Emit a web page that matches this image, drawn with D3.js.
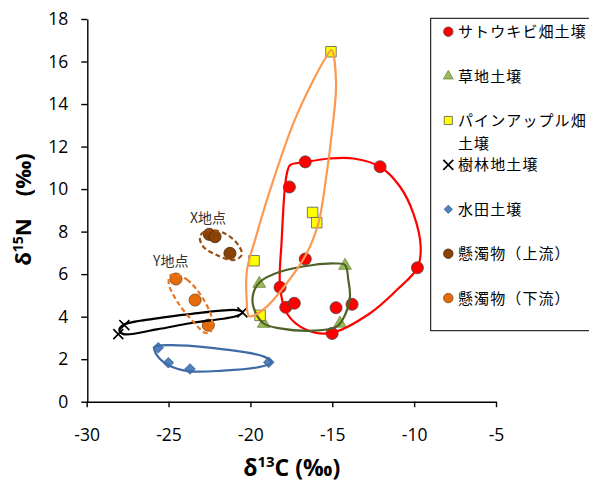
<!DOCTYPE html>
<html>
<head>
<meta charset="utf-8">
<script src="https://cdn.jsdelivr.net/npm/d3@7"></script>
<style>
body { margin: 0; background: #fff; }
svg { display: block; }
.tick text { font-family: "Open Sans", sans-serif; font-size: 17.5px; fill: #000; }
</style>
</head>
<body>
<svg id="chart" width="589" height="484"></svg>
<script>
// δ13C, δ15N of each sample group
var sugarcane = [[-16.65,11.28],[-12.08,11.05],[-17.62,10.1],[-16.65,6.71],[-9.8,6.3],[-18.19,5.38],
                 [-17.84,4.44],[-17.32,4.63],[-14.77,4.42],[-13.79,4.58],[-15.01,3.21]];
var grassland = [[-14.22,6.4],[-19.46,5.55],[-19.19,3.67],[-14.53,3.68]];
var pineapple = [[-15.08,16.46],[-16.2,8.9],[-15.95,8.42],[-19.78,6.63],[-19.41,4.06]];
var forest    = [[-28.07,3.18],[-27.7,3.6],[-20.49,4.2]];
var paddy     = [[-25.63,2.54],[-25.01,1.83],[-23.69,1.54],[-18.88,1.85]];
var upstream   = [[-22.51,7.87],[-22.16,7.76],[-21.25,6.98]];
var downstream = [[-24.55,5.77],[-23.38,4.78],[-22.57,3.6]];

// hand-drawn group outlines (data coordinates)
var sugarcaneOutline = [[-17.58,11.13],[-16.65,11.27],[-15.14,11.44],[-13.71,11.44],[-12.08,11.05],[-10.86,10.11],
  [-10.05,8.86],[-9.6,7.29],[-9.8,6.3],[-11.06,5.25],[-12.69,4.16],[-15.03,3.24],[-16.56,3.37],[-17.78,4.16],
  [-18.19,5.41],[-18.09,7.6],[-17.89,10.11],[-17.75,10.81]];
var pineappleOutline = [[-15.05,16.54],[-14.77,14.97],[-15.03,12.62],[-15.34,10.74],[-15.85,8.39],[-16.56,6.98],
  [-17.78,5.57],[-19.0,4.47],[-19.72,4.08],[-20.09,4.03],[-20.23,4.78],[-20.21,6.19],[-19.72,7.6],[-18.8,9.95],
  [-17.38,13.09],[-16.16,15.12],[-15.38,16.2]];
var grasslandOutline = [[-14.22,6.43],[-14.02,5.72],[-13.92,4.94],[-14.22,4.08],[-14.73,3.53],[-16.16,3.34],
  [-18.19,3.45],[-19.21,3.69],[-19.82,4.47],[-19.82,5.1],[-19.41,5.64],[-18.19,6.11],[-16.16,6.43],[-14.83,6.5]];
var forestOutline = [[-28.01,3.37],[-27.76,3.61],[-25.72,3.92],[-23.69,4.12],[-20.84,4.31],[-20.47,4.2],
  [-20.84,4.03],[-23.69,3.69],[-25.72,3.4],[-27.76,3.18]];
var paddyOutline = [[-25.86,2.57],[-24.42,2.65],[-21.49,2.45],[-19.17,2.12],[-18.7,1.84],[-19.6,1.61],
  [-21.66,1.46],[-23.81,1.44],[-25.03,1.73],[-25.68,2.15]];
var upstreamOutline = [[-23.08,7.76],[-22.71,8.03],[-21.66,7.95],[-20.74,7.37],[-20.53,6.9],[-21.04,6.66],
  [-22.06,6.9],[-22.88,7.29]];
var downstreamOutline = [[-24.71,6.0],[-23.89,5.75],[-22.97,4.94],[-22.36,3.92],[-22.43,3.29],[-22.77,3.24],
  [-23.49,3.76],[-24.4,4.63],[-24.97,5.49],[-24.95,5.88]];

var xTicks = [-30,-25,-20,-15,-10,-5];
var yTicks = [0,2,4,6,8,10,12,14,16,18];
var legendLabels = [["サトウキビ畑土壌"],["草地土壌"],["パインアップル畑","土壌"],["樹林地土壌"],["水田土壌"],["懸濁物（上流）"],["懸濁物（下流）"]];
var siteLabels = [{text:"X地点", x:-22.59, y:8.65},{text:"Y地点", x:-24.87, y:6.62}];

var svg = d3.select("#chart");
var x = d3.scaleLinear().domain([-30,-5]).range([86.7,496]);
var y = d3.scaleLinear().domain([0,18]).range([401.7,19]);

// axes (plain hyphen minus like the original)
var gx = svg.append("g").attr("transform","translate(0,401.7)")
  .call(d3.axisBottom(x).tickValues(xTicks).tickSize(5.5).tickSizeOuter(0).tickFormat(function(d){ return String(d); }));
gx.selectAll("text").attr("y",39.3).attr("dy",null);
var gy = svg.append("g").attr("transform","translate(87.3,0)")
  .call(d3.axisLeft(y).tickValues(yTicks).tickSize(6).tickSizeOuter(0).tickFormat(function(d){ return String(d); }));
gy.selectAll("text").attr("x",-19).attr("dy","5.7px");
svg.selectAll(".domain, .tick line").attr("stroke","#000").attr("stroke-width",1.4);

// axis titles
var xt = svg.append("text").attr("x",291.7).attr("y",476).attr("text-anchor","middle")
  .style("font-family","Open Sans, sans-serif").style("font-weight","bold").style("font-size","23px");
xt.append("tspan").text("δ");
xt.append("tspan").attr("dy",-9).style("font-size","15px").text("13");
xt.append("tspan").attr("dy",9).text("C (‰)");

var yt = svg.append("text").attr("transform","translate(31,209.5) rotate(-90)").attr("text-anchor","middle")
  .style("font-family","Open Sans, sans-serif").style("font-weight","bold").style("font-size","22px");
yt.append("tspan").text("δ");
yt.append("tspan").attr("dy",-8).style("font-size","14px").text("15");
yt.append("tspan").attr("dy",8).text("N\u3000(‰)");

// markers
var sym = {
  circle: d3.symbol().type(d3.symbolCircle),
  triangle: d3.symbol().type(d3.symbolTriangle),
  square: d3.symbol().type(d3.symbolSquare)
};
function cross(s) { var h = s/2; return "M"+(-h)+","+(-h)+"L"+h+","+h+"M"+(-h)+","+h+"L"+h+","+(-h); }

var series = [
  {data:sugarcane, shape:"circle", size:115, fill:"#ff0000", stroke:"#4a4a4a", line:sugarcaneOutline, color:"#ff0000", dash:null},
  {data:grassland, shape:"triangle", size:70, fill:"#9bbb59", stroke:"#71893f", line:grasslandOutline, color:"#4f6228", dash:null},
  {data:pineapple, shape:"square", size:110, fill:"#ffff00", stroke:"#595959", line:pineappleOutline, color:"#fb9a50", dash:null},
  {data:forest, shape:"x", size:10, fill:"none", stroke:"#000", line:forestOutline, color:"#000", dash:null},
  {data:paddy, shape:"diamond", size:55, fill:"#4f81bd", stroke:"#385d8a", line:paddyOutline, color:"#3e6aa5", dash:null},
  {data:upstream, shape:"circle", size:115, fill:"#8b4304", stroke:"#4a2a10", line:upstreamOutline, color:"#9a4f14", dash:"5,3"},
  {data:downstream, shape:"circle", size:115, fill:"#e46c0a", stroke:"#7a4010", line:downstreamOutline, color:"#e87722", dash:"5,3"}
];

function drawMarker(g, s, scale) {
  if (s.shape === "x") {
    g.append("path").attr("d",cross(s.size*scale)).attr("stroke",s.stroke).attr("stroke-width",1.6).attr("fill","none");
  } else if (s.shape === "diamond") {
    g.append("path").attr("d",d3.symbol().type(d3.symbolSquare).size(s.size*scale*scale)())
      .attr("transform","rotate(45)").attr("fill",s.fill).attr("stroke",s.stroke).attr("stroke-width",0.8);
  } else {
    g.append("path").attr("d",sym[s.shape].size(s.size*scale*scale)())
      .attr("fill",s.fill).attr("stroke",s.stroke).attr("stroke-width",0.8);
  }
}

series.forEach(function(s){
  svg.append("g").selectAll("g.pt").data(s.data).enter().append("g")
    .attr("class","pt")
    .attr("transform",function(d){ return "translate("+x(d[0])+","+y(d[1])+")"; })
    .each(function(){ drawMarker(d3.select(this), s, 1); });
});

var outline = d3.line().x(function(d){ return x(d[0]); }).y(function(d){ return y(d[1]); })
  .curve(d3.curveCatmullRomClosed.alpha(0.5));
series.forEach(function(s){
  svg.append("path").datum(s.line).attr("d",outline).attr("fill","none")
    .attr("stroke",s.color).attr("stroke-width",2.2).attr("stroke-dasharray",s.dash);
});

// site labels
svg.selectAll("text.site").data(siteLabels).enter().append("text").attr("class","site")
  .attr("x",function(d){ return x(d.x); }).attr("y",function(d){ return y(d.y)+5; })
  .attr("text-anchor","middle").attr("fill","#333")
  .style("font-family","Noto Sans CJK JP, sans-serif").style("font-size","14px")
  .text(function(d){ return d.text; });

// legend
var legend = svg.append("g");
legend.append("rect").attr("x",430.7).attr("y",18.3).attr("width",200).attr("height",312.4)
  .attr("fill","#fff").attr("stroke","#000").attr("stroke-width",1);
series.forEach(function(s,i){
  var cy = 31.7 + i*44.4;
  var mg = legend.append("g").attr("transform","translate(448.3,"+cy+")");
  drawMarker(mg, s, s.shape==="x" ? 1 : 0.78);
  var t = legend.append("text").attr("x",458).attr("y",cy+5.5)
    .style("font-family","Noto Sans CJK JP, sans-serif").style("font-size","15px")
    .style("letter-spacing","1.1px").attr("fill","#000");
  legendLabels[i].forEach(function(line,j){
    t.append("tspan").attr("x",458).attr("dy", j ? 23 : 0).text(line);
  });
});
</script>
</body>
</html>
